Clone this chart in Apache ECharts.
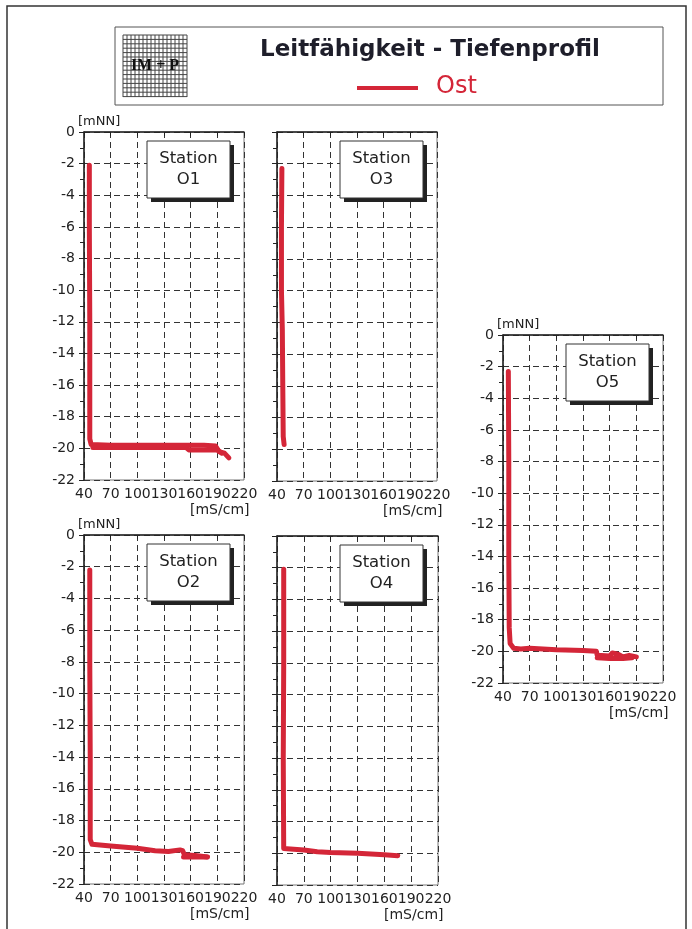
<!DOCTYPE html>
<html>
<head>
<meta charset="utf-8">
<script src="https://cdn.jsdelivr.net/npm/echarts@6/dist/echarts.min.js"></script>
<style>
  html, body { margin: 0; padding: 0; background: #fff; }
  #main { width: 692px; height: 929px; }
</style>
</head>
<body>
<div id="main"></div>
<script>
// Achsen
var xTicks = [40, 70, 100, 130, 160, 190, 220];
var yMin = -22, yMax = 0;

// Messwerte [mS/cm, mNN]
var o1 = [[46,-2.1],[46,-6],[46.5,-12],[46.5,-17],[46.5,-19.4],[48,-19.75],[70,-19.8],[100,-19.8],[130,-19.8],[158,-19.8],[175,-19.8],[188,-19.85],[190,-19.9],[192,-20.2],[198,-20.3],[203,-20.6]];
var o1b = [[50,-19.95],[100,-19.95],[155,-19.95],[158,-20.1],[190,-20.1],[195,-20.3]];
var o3 = [[45.5,-2.3],[45,-6],[45,-10],[46,-12.5],[46.5,-16],[47,-19.2],[48,-19.7]];
var o2 = [[46.5,-2.2],[46.5,-8],[47,-14],[47,-19.2],[49,-19.5],[70,-19.6],[100,-19.75],[120,-19.9],[135,-19.95],[148,-19.85],[151,-19.9],[153,-20.15],[165,-20.2],[179,-20.3]];
var o2b = [[152,-20.3],[178,-20.3]];
var o4 = [[47.5,-2.1],[47.5,-8],[47,-14],[47.5,-19.7],[49,-19.8],[70,-19.8],[85,-19.9],[100,-19.95],[130,-20.0],[160,-20.1],[175,-20.15]];
var o5 = [[46,-2.3],[46.5,-8],[46.5,-14],[47,-18.5],[48,-19.5],[52,-19.8],[60,-19.85],[70,-19.8],[100,-19.9],[130,-19.95],[145,-20.0],[146,-20.25],[160,-20.3],[163,-20.1],[170,-20.2],[175,-20.35],[182,-20.25],[190,-20.35]];
var o5b = [[146,-20.4],[160,-20.45],[175,-20.45],[185,-20.4]];

var stations = [
    { name: 'O1', data: [o1, o1b], box: [84, 132, 160, 348], yLabels: true },
    { name: 'O3', data: [o3], box: [277, 132, 160, 349], yLabels: false },
    { name: 'O2', data: [o2, o2b], box: [84, 535, 160, 349], yLabels: true },
    { name: 'O4', data: [o4], box: [277, 536, 161, 349], yLabels: false },
    { name: 'O5', data: [o5, o5b], box: [503, 335, 160, 348], yLabels: true }
];

var red = '#d42638';
var font = 'DejaVu Sans';

var myChart = echarts.init(document.getElementById('main'));

var grids = [], xAxes = [], yAxes = [], series = [], graphics = [];

stations.forEach(function (st, i) {
    var b = st.box;
    grids.push({ left: b[0], top: b[1], width: b[2], height: b[3], show: true, borderColor: '#777', borderWidth: 1 });
    xAxes.push({
        gridIndex: i, type: 'value', min: xTicks[0], max: xTicks[xTicks.length - 1], interval: 30,
        axisLine: { lineStyle: { color: '#222', width: 1.5 } },
        axisTick: { show: true, length: 4, lineStyle: { color: '#222' } },
        axisLabel: { fontSize: 14, color: '#222', fontFamily: font, margin: 7,
            hideOverlap: false, showMinLabel: true, showMaxLabel: true },
        splitLine: { show: true, lineStyle: { color: '#333', type: [6, 4], width: 1 } }
    });
    yAxes.push({
        gridIndex: i, type: 'value', min: yMin, max: yMax, interval: 2,
        axisLine: { show: true, lineStyle: { color: '#222', width: 1.5 } },
        axisTick: { show: true, length: 5, lineStyle: { color: '#222' } },
        minorTick: { show: true, splitNumber: 2, length: 4, lineStyle: { color: '#222' } },
        axisLabel: { show: st.yLabels, fontSize: 14, color: '#222', fontFamily: font, margin: 9,
            showMinLabel: true, showMaxLabel: true },
        splitLine: { show: true, lineStyle: { color: '#333', type: [6, 4], width: 1 } }
    });
    st.data.forEach(function (d) {
        series.push({
            type: 'line', name: 'Ost', xAxisIndex: i, yAxisIndex: i, data: d,
            showSymbol: false, symbol: 'none', silent: true,
            lineStyle: { color: red, width: 5, cap: 'round', join: 'round' }
        });
    });

    // Einheiten
    if (st.yLabels) {
        graphics.push({ type: 'text', left: b[0] - 6, top: b[1] - 17,
            style: { text: '[mNN]', font: '13px ' + font, fill: '#222' } });
    }
    graphics.push({ type: 'text', left: b[0] + b[2] - 54, top: b[1] + b[3] + 23,
        style: { text: '[mS/cm]', font: '14px ' + font, fill: '#222' } });

    // Stationskasten
    var bx = b[0] + 63, by = b[1] + 9, bw = 83, bh = 57;
    graphics.push({ type: 'rect', shape: { x: bx + 4, y: by + 4, width: bw, height: bh }, style: { fill: '#222' } });
    graphics.push({ type: 'rect', shape: { x: bx, y: by, width: bw, height: bh }, style: { fill: '#fff', stroke: '#333', lineWidth: 1 } });
    graphics.push({ type: 'text', x: bx + bw / 2, y: by + 18,
        style: { text: 'Station', font: '16.5px ' + font, fill: '#222', align: 'center', verticalAlign: 'middle' } });
    graphics.push({ type: 'text', x: bx + bw / 2, y: by + 39,
        style: { text: st.name, font: '16.5px ' + font, fill: '#222', align: 'center', verticalAlign: 'middle' } });
});

// Rahmen der Seite und Kopf
graphics.push({ type: 'rect', shape: { x: 7, y: 6, width: 679, height: 930 }, style: { fill: 'none', stroke: '#333', lineWidth: 1.5 } });
graphics.push({ type: 'rect', shape: { x: 115, y: 27, width: 548, height: 78 }, style: { fill: '#fff', stroke: '#555', lineWidth: 1 } });
graphics.push({ type: 'text', x: 430, y: 50,
    style: { text: 'Leitfähigkeit - Tiefenprofil', font: 'bold 23px ' + font, fill: '#1e1e2a', align: 'center', verticalAlign: 'middle' } });
graphics.push({ type: 'line', shape: { x1: 357, y1: 88, x2: 418, y2: 88 }, style: { stroke: red, lineWidth: 4 } });
graphics.push({ type: 'text', x: 436, y: 87,
    style: { text: 'Ost', font: '24px ' + font, fill: red, verticalAlign: 'middle' } });

// Logo
var lx = 123, ly = 35, lw = 64, lh = 62;
for (var k = 0; k <= 16; k++) {
    graphics.push({ type: 'line', shape: { x1: lx + k * 4, y1: ly, x2: lx + k * 4, y2: ly + lh }, style: { stroke: '#444', lineWidth: 1 } });
}
for (var m = 0; m <= 14; m++) {
    graphics.push({ type: 'line', shape: { x1: lx, y1: ly + m * 4.4, x2: lx + lw, y2: ly + m * 4.4 }, style: { stroke: '#444', lineWidth: 1 } });
}
graphics.push({ type: 'text', x: lx + lw / 2, y: ly + 31,
    style: { text: 'IM + P', font: 'bold 16px "Liberation Serif"', fill: '#111', align: 'center', verticalAlign: 'middle' } });

graphics.forEach(function (g) { g.z = 100; });

option = {
    backgroundColor: '#fff',
    animation: false,
    grid: grids,
    xAxis: xAxes,
    yAxis: yAxes,
    series: series,
    graphic: graphics
};
myChart.setOption(option);
</script>
</body>
</html>
